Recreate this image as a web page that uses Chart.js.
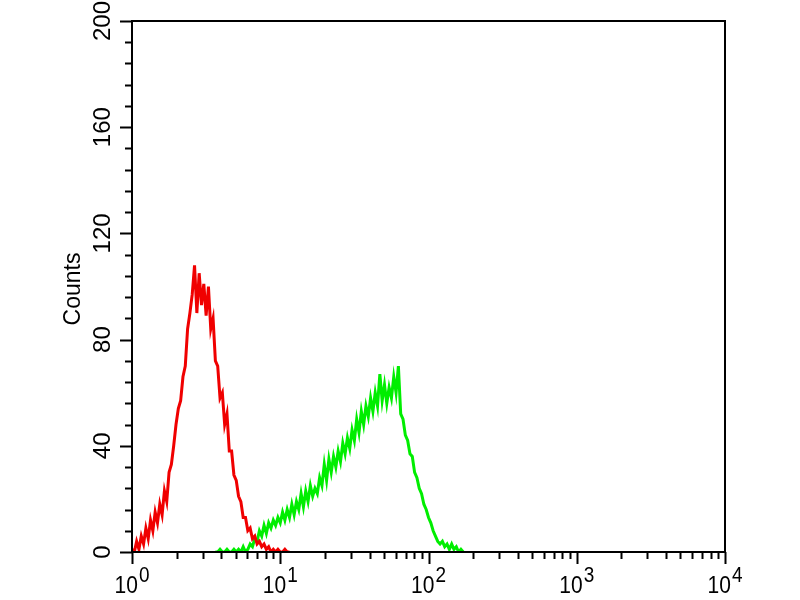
<!DOCTYPE html>
<html>
<head>
<meta charset="utf-8">
<title>Counts histogram</title>
<script src="https://cdn.jsdelivr.net/npm/chart.js@4.4.1/dist/chart.umd.min.js"></script>
<style>
  html, body { margin: 0; padding: 0; background: #fff; }
  #wrap { width: 800px; height: 600px; }
</style>
</head>
<body>
<div id="wrap"><canvas id="hist" width="800" height="600"></canvas></div>
<script>
// channel numbers (1024 channels over 4 decades) and counts
const redChannels = [0, 4, 8, 12, 16, 20, 24, 28, 32, 36, 40, 44, 48, 52, 56, 60, 64, 68, 72, 76,
  80, 84, 88, 92, 96, 100, 104, 108, 112, 116, 120, 124, 128, 132, 136, 140, 144, 148, 152, 156,
  160, 164, 168, 172, 176, 180, 184, 188, 192, 196, 200, 204, 208, 212, 216, 220, 224, 228, 232, 236,
  240, 244, 248, 252, 256, 260, 264, 268, 272];
const redCounts = [1, 0, 4, 1, 6, 3, 9, 5, 12, 8, 15, 11, 18, 14, 23, 19, 30, 33, 40, 48,
  54, 57, 66, 70, 84, 90, 97, 108, 90, 105, 93, 101, 89, 100, 84, 88, 72, 70, 58, 60,
  48, 52, 38, 38, 29, 27, 21, 19, 13, 13, 8, 9, 5, 6, 3, 4, 2, 3, 1, 2,
  0, 1, 0, 1, 0, 0, 1, 0, 0];

const greenChannels = [144, 148, 152, 156, 160, 164, 168, 172, 176, 180, 184, 188, 192, 196, 200, 204, 208, 212, 216, 220,
  224, 228, 232, 236, 240, 244, 248, 252, 256, 260, 264, 268, 272, 276, 280, 284, 288, 292, 296, 300,
  304, 308, 312, 316, 320, 324, 328, 332, 336, 340, 344, 348, 352, 356, 360, 364, 368, 372, 376, 380,
  384, 388, 392, 396, 400, 404, 408, 412, 416, 420, 424, 428, 432, 436, 440, 444, 448, 452, 456, 460,
  464, 468, 472, 476, 480, 484, 488, 492, 496, 500, 504, 508, 512, 516, 520, 524, 528, 532, 536, 540,
  544, 548, 552, 556, 560, 564, 568, 572];
const greenCounts = [0, 0, 1, 0, 0, 1, 0, 0, 1, 0, 1, 0, 2, 0, 1, 3, 2, 5, 4, 8,
  6, 10, 7, 11, 9, 12, 10, 13, 11, 15, 12, 16, 13, 18, 14, 19, 16, 22, 17, 23,
  19, 25, 21, 24, 22, 28, 25, 33, 27, 35, 30, 36, 32, 38, 34, 41, 37, 43, 39, 46,
  42, 50, 45, 53, 48, 55, 51, 58, 53, 60, 55, 67, 57, 63, 56, 62, 58, 66, 60, 70,
  52, 50, 44, 42, 37, 36, 30, 28, 24, 22, 18, 16, 13, 11, 8, 6, 4, 3, 4, 2,
  3, 1, 3, 1, 2, 0, 1, 0];

const yTickLabels = [0, 40, 80, 120, 160, 200];
const xDecades = [0, 1, 2, 3, 4];
const yAxisTitle = "Counts";

const toPoints = (chs, counts) => chs.map((c, i) => ({ x: Math.pow(10, c / 256), y: counts[i] }));

const axesPlugin = {
  id: "axesPlugin",
  afterDraw(chart) {
    const { ctx, chartArea: a } = chart;
    const xs = chart.scales.x, ys = chart.scales.y;
    ctx.save();
    ctx.strokeStyle = "#000";
    ctx.fillStyle = "#000";
    ctx.lineWidth = 2;
    ctx.strokeRect(a.left, a.top, a.right - a.left, a.bottom - a.top);

    // y ticks: minor every 8, major every 40
    ctx.beginPath();
    for (let v = 0; v <= 200; v += 8) {
      const py = Math.round(ys.getPixelForValue(v)) + 0.5;
      const len = v % 40 === 0 ? 12 : 7;
      ctx.moveTo(a.left, py);
      ctx.lineTo(a.left - len, py);
    }
    // x ticks: decades and 2..9
    xDecades.forEach((d, i) => {
      const base = Math.pow(10, d);
      const px = Math.round(xs.getPixelForValue(base)) + 0.5;
      ctx.moveTo(px, a.bottom);
      ctx.lineTo(px, a.bottom + 12);
      if (i < xDecades.length - 1) {
        for (let k = 2; k <= 9; k++) {
          const mx = Math.round(xs.getPixelForValue(base * k)) + 0.5;
          ctx.moveTo(mx, a.bottom);
          ctx.lineTo(mx, a.bottom + 7);
        }
      }
    });
    ctx.stroke();

    // y labels, rotated
    ctx.font = "24px 'Liberation Sans', Arial, sans-serif";
    ctx.textAlign = "center";
    ctx.textBaseline = "alphabetic";
    yTickLabels.forEach(v => {
      ctx.save();
      ctx.translate(110, ys.getPixelForValue(v));
      ctx.rotate(-Math.PI / 2);
      ctx.fillText(String(v), 0, 0);
      ctx.restore();
    });

    // axis title
    ctx.save();
    ctx.translate(80, 289);
    ctx.rotate(-Math.PI / 2);
    ctx.font = "23px 'Liberation Sans', Arial, sans-serif";
    ctx.fillText(yAxisTitle, 0, 0);
    ctx.restore();

    // x labels 10^n
    xDecades.forEach(d => {
      const px = xs.getPixelForValue(Math.pow(10, d));
      ctx.save();
      ctx.translate(0, 593);
      ctx.scale(1, 1.15);
      ctx.font = "21px 'Liberation Sans', Arial, sans-serif";
      ctx.textAlign = "left";
      const wBase = ctx.measureText("10").width;
      ctx.font = "19px 'Liberation Sans', Arial, sans-serif";
      const wExp = ctx.measureText(String(d)).width;
      const start = px - (wBase + wExp + 1) / 2;
      ctx.font = "21px 'Liberation Sans', Arial, sans-serif";
      ctx.fillText("10", start, 0);
      ctx.font = "19px 'Liberation Sans', Arial, sans-serif";
      ctx.fillText(String(d), start + wBase + 1, -10);
      ctx.restore();
    });
    ctx.restore();
  }
};

new Chart(document.getElementById("hist").getContext("2d"), {
  type: "line",
  data: {
    datasets: [
      {
        label: "control",
        data: toPoints(redChannels, redCounts),
        borderColor: "#f00000",
        borderWidth: 3,
        borderJoinStyle: "miter",
        pointRadius: 0,
        tension: 0,
        fill: false,
      },
      {
        label: "stained",
        data: toPoints(greenChannels, greenCounts),
        borderColor: "#00ee00",
        borderWidth: 3,
        borderJoinStyle: "miter",
        pointRadius: 0,
        tension: 0,
        fill: false,
      },
    ],
  },
  options: {
    responsive: false,
    animation: false,
    layout: { padding: { left: 132, top: 21, right: 75, bottom: 48 } },
    plugins: { legend: { display: false }, tooltip: { enabled: false } },
    scales: {
      x: { type: "logarithmic", min: 1, max: 10000, display: false },
      y: { type: "linear", min: 0, max: 200, display: false },
    },
  },
  plugins: [axesPlugin],
});
</script>
</body>
</html>
